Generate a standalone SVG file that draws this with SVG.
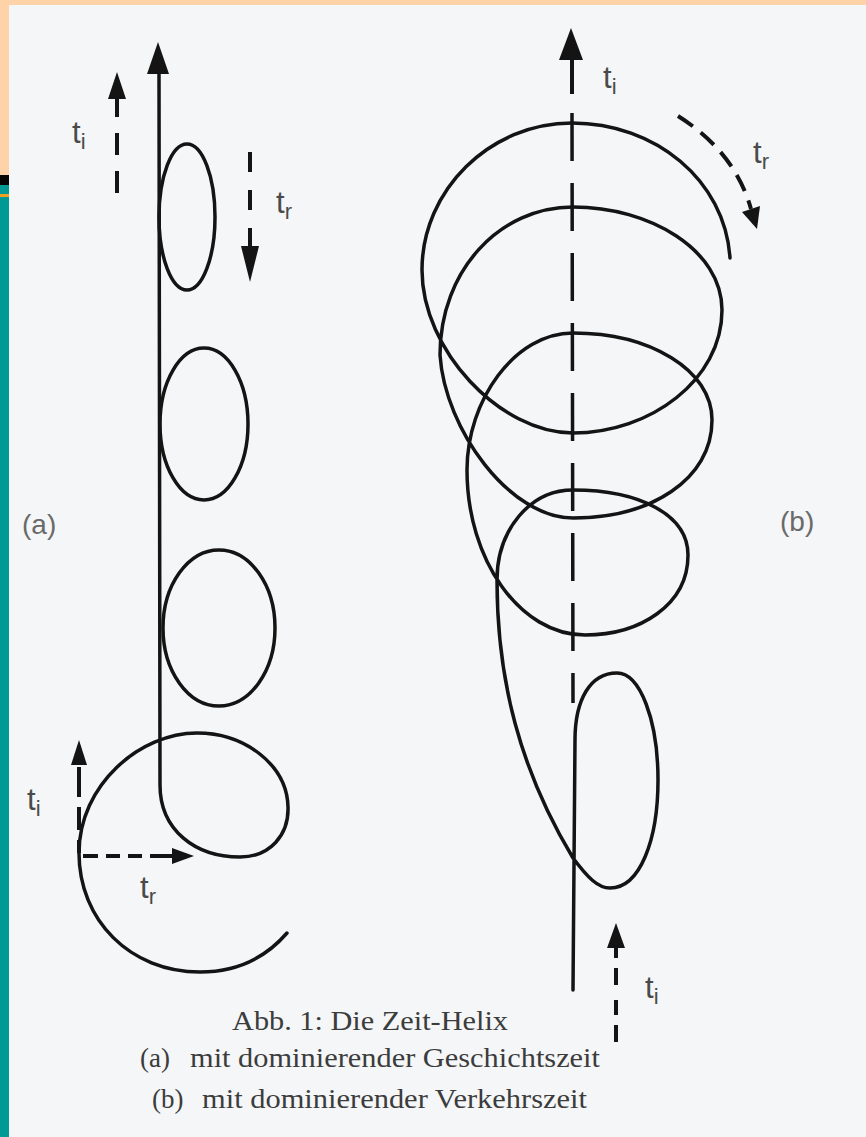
<svg xmlns="http://www.w3.org/2000/svg" width="866" height="1137" viewBox="0 0 866 1137">
<style>
.ln{fill:none;stroke:#141414;stroke-width:3.5;stroke-linecap:round;stroke-linejoin:round}
.ax{fill:none;stroke:#141414;stroke-width:4}
.ds{fill:none;stroke:#141414;stroke-width:4}
.hd{fill:#141414}
.t{font-family:"Liberation Sans","DejaVu Sans",sans-serif;font-size:31px;fill:#4a4a4a}
.lab{font-family:"Liberation Sans","DejaVu Sans",sans-serif;font-size:28px;fill:#6a6a6a}
.cap{font-family:"Liberation Serif","DejaVu Serif",serif;font-size:27px;fill:#3c3c3c}
</style>
<rect x="0" y="0" width="866" height="1137" fill="#f4f6f7"/>
<rect x="0" y="0" width="866" height="5" fill="#fdd3a7"/>
<rect x="0" y="0" width="9" height="175" fill="#fdd3a7"/>
<rect x="0" y="175" width="9" height="10" fill="#050505"/>
<rect x="0" y="185" width="9" height="952" fill="#009a94"/>
<rect x="0" y="194" width="9" height="3" fill="#f0a020"/>

<g id="helix-a">
<path class="ln" d="M159,72 L160,785 C160,830 195,857 240,857 C270,857 289,835 288,807 C287,765 245,733 197,733 C140,733 79,785 79,853 C79,920 130,972 200,972 C240,972 268,955 287,933"/>
<polygon class="hd" points="158,42 147,74 169,74"/>
<ellipse class="ln" cx="187" cy="217" rx="28" ry="73"/>
<ellipse class="ln" cx="204" cy="424" rx="44" ry="76"/>
<ellipse class="ln" cx="219" cy="628" rx="56" ry="78"/>
</g>

<g id="helix-b">
<path class="ln" d="M730,258 C725,180 655,123 572,123 C490,123 422,190 422,270 C422,350 500,433 573,433 C650,433 722,380 722,310 C722,250 650,207 573,207 C500,207 440,270 440,355 C445,430 510,518 573,518 C650,518 712,480 712,420 C712,370 650,333 573,333 C515,333 467,400 467,470 C467,560 520,635 585,635 C640,635 688,605 688,555 C688,515 640,490 573,490 C530,490 497,530 497,580 C497,680 520,770 573,858 C588,878 598,888 610,888 C640,888 658,840 658,780 C658,720 640,673 617,673 C590,673 575,700 575,740 L573,990"/>
<line class="ax" x1="572" y1="58" x2="572" y2="94"/>
<polygon class="hd" points="571,28 559,60 583,60"/>
<line x1="572" y1="113" x2="573" y2="703" stroke="#141414" stroke-width="3.5" stroke-dasharray="48 22"/>
</g>

<g id="connectors">
<line class="ds" x1="117" y1="193" x2="117" y2="96" stroke-dasharray="22 16"/>
<polygon class="hd" points="117,72 108,99 126,99"/>
<path class="ds" d="M250,152 V172 M250,190 V210 M250,228 V250"/>
<polygon class="hd" points="250,282 241,246 259,246"/>
<path class="ds" d="M79,853 V840 M79,830 V807 M79,797 V767"/>
<polygon class="hd" points="79,740 71,765 87,765"/>
<path class="ds" d="M83,856 H98 M106,856 H120 M128,856 H142 M150,856 H176"/>
<polygon class="hd" points="194,856 172,848 172,864"/>
<path class="ds" d="M616,946 V958 M616,968 V985 M616,1000 V1015 M616,1025 V1042"/>
<polygon class="hd" points="616,923 607,948 625,948"/>
<path class="ds" d="M678,116 Q735,152 751,209" stroke-dasharray="18 10"/>
<polygon class="hd" points="757,229 742,212 760,206"/>
</g>

<g id="labels">
<text class="t" x="72" y="143">t<tspan font-size="22" dy="6">i</tspan></text>
<text class="t" x="276" y="213">t<tspan font-size="22" dy="6">r</tspan></text>
<text class="t" x="27" y="810">t<tspan font-size="22" dy="6">i</tspan></text>
<text class="t" x="140" y="898">t<tspan font-size="22" dy="6">r</tspan></text>
<text class="t" x="603" y="88">t<tspan font-size="22" dy="6">i</tspan></text>
<text class="t" x="753" y="163">t<tspan font-size="22" dy="6">r</tspan></text>
<text class="t" x="645" y="998">t<tspan font-size="22" dy="6">i</tspan></text>
<text class="lab" x="22" y="534">(a)</text>
<text class="lab" x="780" y="531">(b)</text>
</g>

<g id="caption">
<text class="cap" x="232" y="1030" textLength="276" lengthAdjust="spacingAndGlyphs">Abb. 1: Die Zeit-Helix</text>
<text class="cap" y="1067"><tspan x="140">(a)</tspan><tspan x="190" textLength="410" lengthAdjust="spacingAndGlyphs">mit dominierender Geschichtszeit</tspan></text>
<text class="cap" y="1108"><tspan x="152">(b)</tspan><tspan x="202" textLength="385" lengthAdjust="spacingAndGlyphs">mit dominierender Verkehrszeit</tspan></text>
</g>
</svg>
